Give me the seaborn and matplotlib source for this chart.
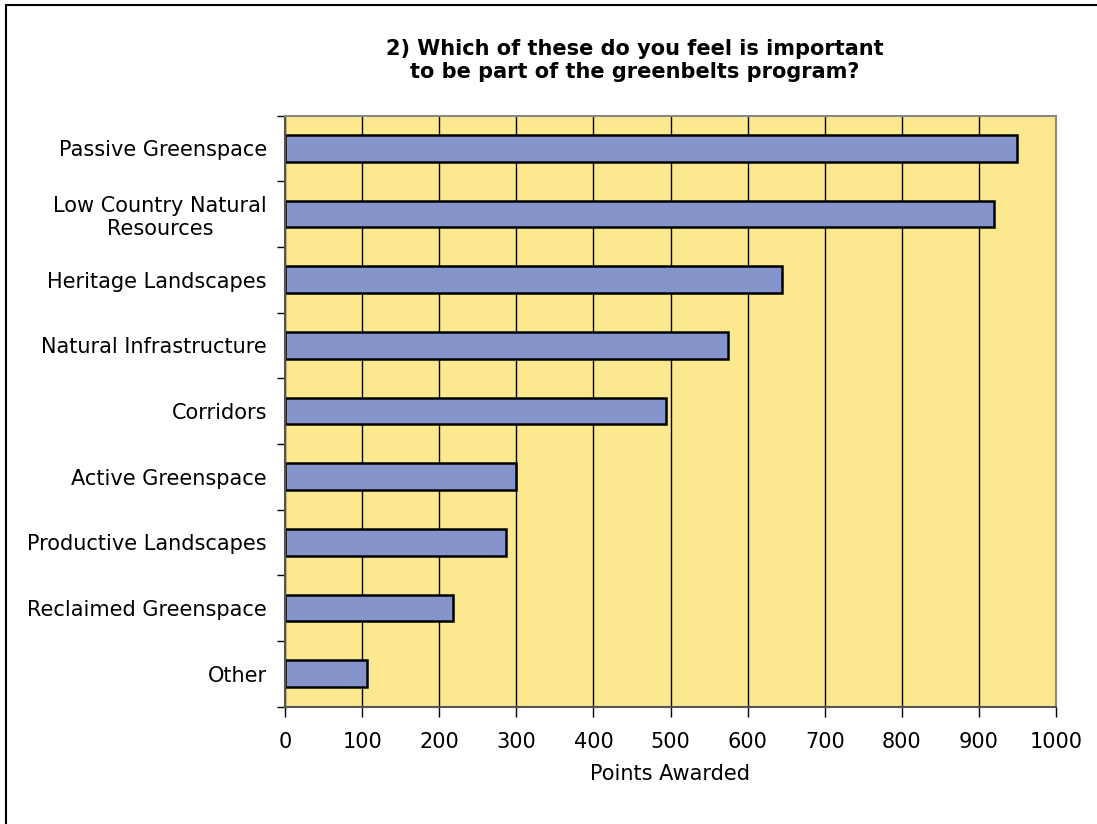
import matplotlib
matplotlib.use("Agg")
import matplotlib.pyplot as plt
import seaborn as sns
import pandas as pd
from matplotlib.lines import Line2D

categories = ["Passive Greenspace", "Low Country Natural\nResources", "Heritage Landscapes",
              "Natural Infrastructure", "Corridors", "Active Greenspace",
              "Productive Landscapes", "Reclaimed Greenspace", "Other"]
points = [950, 919, 645, 574, 494, 299, 286, 218, 107]
x_ticks = [0, 100, 200, 300, 400, 500, 600, 700, 800, 900, 1000]

title = "2) Which of these do you feel is important\nto be part of the greenbelts program?"
xlabel = "Points Awarded"

sns.set_theme(style="white")
plt.rcParams['font.family'] = ['DejaVu Sans']
plt.rcParams['text.color'] = 'black'
plt.rcParams['axes.labelcolor'] = 'black'
plt.rcParams['xtick.color'] = 'black'
plt.rcParams['ytick.color'] = 'black'

df = pd.DataFrame({"category": categories, "points": points})

fig = plt.figure(figsize=(10.97, 8.24), dpi=100)
ax = fig.add_axes([285/1097, 1 - 706.5/824, (1056-285)/1097, (706.5-115.5)/824])
ax.set_facecolor("#FCE98F")
ax.set_axisbelow(True)
ax.xaxis.grid(True, color="black", linewidth=1.0)
ax.yaxis.grid(False)

sns.barplot(data=df, x="points", y="category", orient="h", color="#8595CB",
            edgecolor="black", linewidth=1.8, width=0.41, saturation=1, ax=ax)

ax.set_xlim(0, 1000)
ax.set_ylim(len(categories) - 0.5, -0.5)
ax.set_xticks(x_ticks)
ax.set_xticklabels([str(t) for t in x_ticks], fontsize=15)
ax.set_yticks([i for i in range(len(categories))])
ax.set_yticklabels(categories, fontsize=15, multialignment="center")
ax.tick_params(axis="y", length=0, pad=13)
# boundary ticks on y axis
ax.set_yticks([i - 0.5 for i in range(len(categories) + 1)], minor=True)
ax.tick_params(axis="y", which="minor", length=6, width=1, color="black", direction="out", left=True)
ax.tick_params(axis="x", length=7, width=1, color="black", direction="out", bottom=True, pad=11)

ax.set_xlabel(xlabel, fontsize=15, labelpad=9)
ax.set_ylabel("")
ax.set_title(title, fontsize=15, fontweight="bold", pad=27, linespacing=1.2,
             color="black", x=0.454)

for side in ["left", "bottom"]:
    ax.spines[side].set_color("#555555")
    ax.spines[side].set_linewidth(1.5)
for side in ["right", "top"]:
    ax.spines[side].set_color("#888888")
    ax.spines[side].set_linewidth(1.5)

# outer chart frame (left and top visible)
fig.add_artist(Line2D([6/1097, 6/1097], [0, 1 - 5/824], transform=fig.transFigure, color="black", linewidth=1.5))
fig.add_artist(Line2D([6/1097, 1], [1 - 5/824, 1 - 5/824], transform=fig.transFigure, color="black", linewidth=1.5))

fig.savefig("out.png", dpi=100)
